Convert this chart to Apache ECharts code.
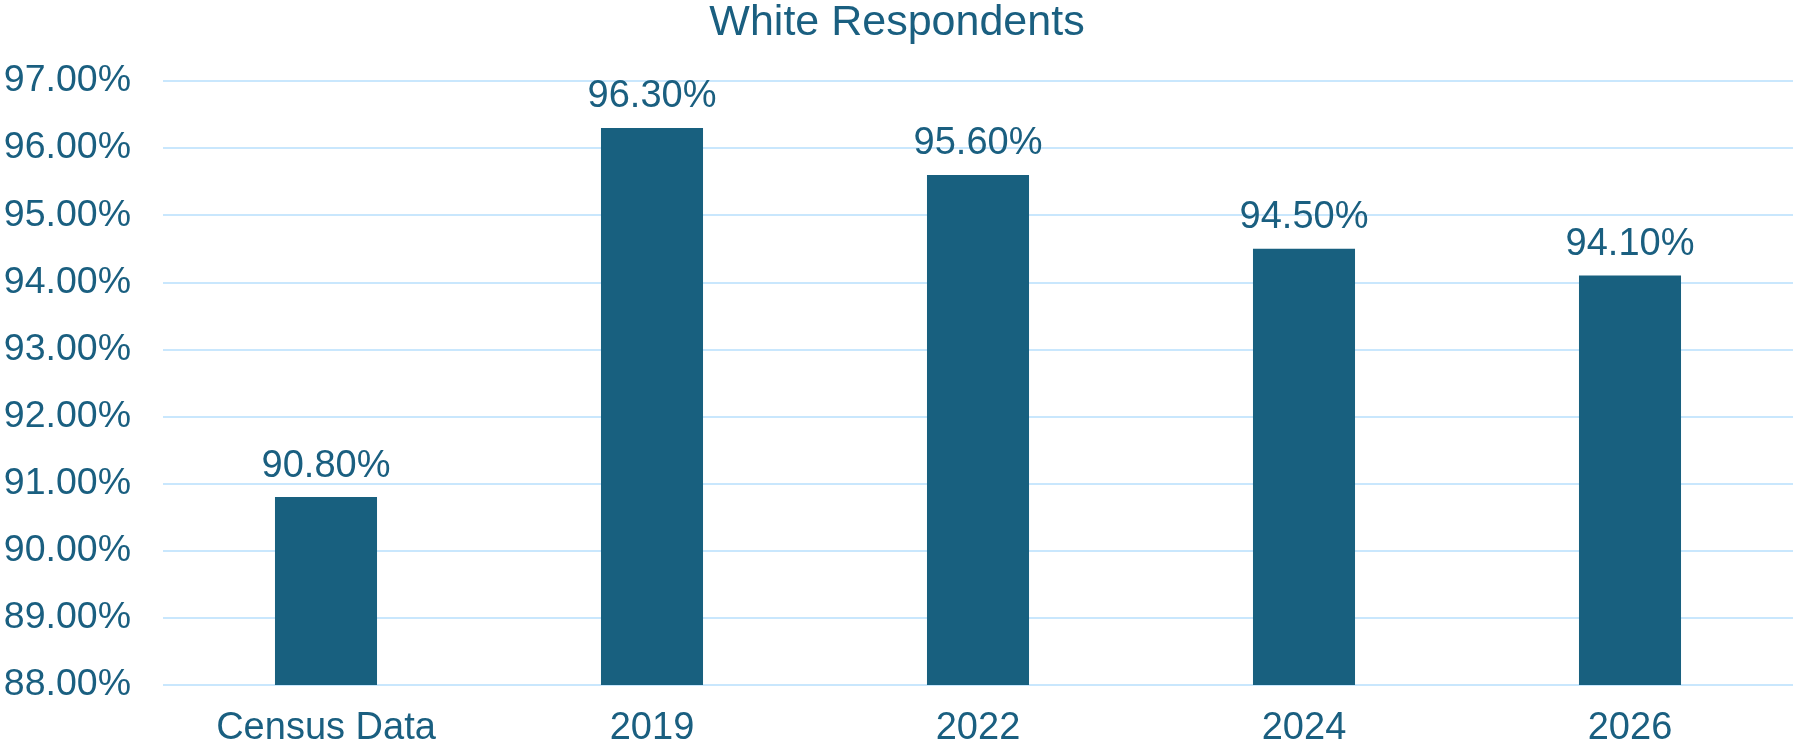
<!DOCTYPE html>
<html>
<head>
<meta charset="utf-8">
<script src="https://cdn.jsdelivr.net/npm/echarts@6/dist/echarts.min.js"></script>
<style>
  html, body { margin: 0; padding: 0; background: #ffffff; }
  #chart { width: 1794px; height: 750px; }
</style>
</head>
<body>
<div id="chart"></div>
<script>
// Share of white respondents by source / survey year
const categories = ['Census Data', '2019', '2022', '2024', '2026'];
const values = [90.8, 96.3, 95.6, 94.5, 94.1];
const yMin = 88;
const yMax = 97;
const yStep = 1;

const textColor = '#1a5f80';
const barColor = '#18607f';
const gridColor = '#c9e7fd';
const fontFamily = '"Liberation Sans", Arial, sans-serif';

const chart = echarts.init(document.getElementById('chart'), null, { renderer: 'canvas' });
chart.setOption({
  animation: false,
  backgroundColor: '#ffffff',
  title: {
    text: 'White Respondents',
    left: 'center',
    top: -3,
    textStyle: { color: textColor, fontSize: 43, fontWeight: 'normal', fontFamily }
  },
  grid: { left: 163, right: 1, top: 81, bottom: 65, containLabel: false, outerBoundsMode: 'none' },
  xAxis: {
    type: 'category',
    data: categories,
    axisLine: { show: false },
    axisTick: { show: false },
    axisLabel: { color: textColor, fontSize: 38, fontFamily, margin: 25 }
  },
  yAxis: {
    type: 'value',
    min: yMin,
    max: yMax,
    interval: yStep,
    axisLine: { show: false },
    axisTick: { show: false },
    axisLabel: {
      color: textColor, fontSize: 37.5, fontFamily, margin: 32,
      formatter: v => v.toFixed(2) + '%'
    },
    splitLine: { lineStyle: { color: gridColor, width: 2 } }
  },
  series: [{
    type: 'bar',
    data: values,
    barWidth: '31.3%',
    itemStyle: { color: barColor },
    label: {
      show: true,
      position: 'top',
      distance: 12,
      color: textColor,
      fontSize: 38,
      fontFamily,
      formatter: p => p.value.toFixed(2) + '%'
    }
  }]
});
</script>
</body>
</html>
